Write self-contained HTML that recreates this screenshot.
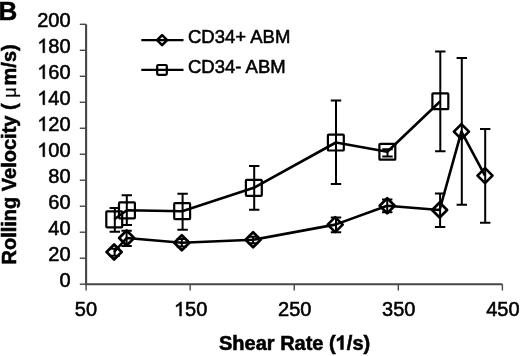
<!DOCTYPE html>
<html><head><meta charset="utf-8"><style>
html,body{margin:0;padding:0;background:#fff;}
body{width:520px;height:356px;overflow:hidden;}
svg{display:block;will-change:transform;filter:blur(0.35px);}
text{font-family:"Liberation Sans",sans-serif;fill:#000;stroke:#000;stroke-width:0.55px;}
.tk{font-size:20px;}
.lg{font-size:18.5px;}
.ttl{font-size:20px;font-weight:bold;}
.mu{font-weight:normal;font-size:18px;stroke-width:0.25px;}
.h{fill-opacity:0;stroke-opacity:0;}
.pl{font-size:26px;font-weight:bold;}
</style></head><body>
<svg width="520" height="356" viewBox="0 0 520 356">
<path transform="translate(37.225 156.750) scale(0.009766 -0.009766)" d="M763 0H583V1147Q518 1085 412 1023Q307 961 223 930V1104Q374 1175 487 1276Q600 1377 647 1440H763Z" fill="#000" stroke="#000" stroke-width="56.3"/>
<path transform="translate(37.225 130.760) scale(0.009766 -0.009766)" d="M763 0H583V1147Q518 1085 412 1023Q307 961 223 930V1104Q374 1175 487 1276Q600 1377 647 1440H763Z" fill="#000" stroke="#000" stroke-width="56.3"/>
<path transform="translate(37.225 104.770) scale(0.009766 -0.009766)" d="M763 0H583V1147Q518 1085 412 1023Q307 961 223 930V1104Q374 1175 487 1276Q600 1377 647 1440H763Z" fill="#000" stroke="#000" stroke-width="56.3"/>
<path transform="translate(37.225 78.780) scale(0.009766 -0.009766)" d="M763 0H583V1147Q518 1085 412 1023Q307 961 223 930V1104Q374 1175 487 1276Q600 1377 647 1440H763Z" fill="#000" stroke="#000" stroke-width="56.3"/>
<path transform="translate(37.225 52.790) scale(0.009766 -0.009766)" d="M763 0H583V1147Q518 1085 412 1023Q307 961 223 930V1104Q374 1175 487 1276Q600 1377 647 1440H763Z" fill="#000" stroke="#000" stroke-width="56.3"/>
<path transform="translate(173.982 316.000) scale(0.009766 -0.009766)" d="M763 0H583V1147Q518 1085 412 1023Q307 961 223 930V1104Q374 1175 487 1276Q600 1377 647 1440H763Z" fill="#000" stroke="#000" stroke-width="56.3"/>
<path transform="translate(335.719 349.600) scale(0.009766 -0.009766)" d="M785 0H504V1059Q350 915 137 846V1101Q249 1138 380 1240Q511 1342 560 1440H785Z" fill="#000" stroke="#000" stroke-width="56.3"/>
<path d="M86.1 24.3 V284.2 H502.4" fill="none" stroke="#474747" stroke-width="2.1"/>
<line x1="79.8" y1="284.20" x2="86.1" y2="284.20" stroke="#474747" stroke-width="1.4"/>
<text x="70.6" y="286.70" text-anchor="end" class="tk">0</text>
<line x1="79.8" y1="258.21" x2="86.1" y2="258.21" stroke="#474747" stroke-width="1.4"/>
<text x="70.6" y="260.71" text-anchor="end" class="tk">20</text>
<line x1="79.8" y1="232.22" x2="86.1" y2="232.22" stroke="#474747" stroke-width="1.4"/>
<text x="70.6" y="234.72" text-anchor="end" class="tk">40</text>
<line x1="79.8" y1="206.23" x2="86.1" y2="206.23" stroke="#474747" stroke-width="1.4"/>
<text x="70.6" y="208.73" text-anchor="end" class="tk">60</text>
<line x1="79.8" y1="180.24" x2="86.1" y2="180.24" stroke="#474747" stroke-width="1.4"/>
<text x="70.6" y="182.74" text-anchor="end" class="tk">80</text>
<line x1="79.8" y1="154.25" x2="86.1" y2="154.25" stroke="#474747" stroke-width="1.4"/>
<text x="70.6" y="156.75" text-anchor="end" class="tk"><tspan class="h">1</tspan>00</text>
<line x1="79.8" y1="128.26" x2="86.1" y2="128.26" stroke="#474747" stroke-width="1.4"/>
<text x="70.6" y="130.76" text-anchor="end" class="tk"><tspan class="h">1</tspan>20</text>
<line x1="79.8" y1="102.27" x2="86.1" y2="102.27" stroke="#474747" stroke-width="1.4"/>
<text x="70.6" y="104.77" text-anchor="end" class="tk"><tspan class="h">1</tspan>40</text>
<line x1="79.8" y1="76.28" x2="86.1" y2="76.28" stroke="#474747" stroke-width="1.4"/>
<text x="70.6" y="78.78" text-anchor="end" class="tk"><tspan class="h">1</tspan>60</text>
<line x1="79.8" y1="50.29" x2="86.1" y2="50.29" stroke="#474747" stroke-width="1.4"/>
<text x="70.6" y="52.79" text-anchor="end" class="tk"><tspan class="h">1</tspan>80</text>
<line x1="79.8" y1="24.30" x2="86.1" y2="24.30" stroke="#474747" stroke-width="1.4"/>
<text x="70.6" y="26.80" text-anchor="end" class="tk">200</text>
<line x1="86.10" y1="284.2" x2="86.10" y2="290.5" stroke="#474747" stroke-width="1.4"/>
<text x="85.90" y="316" text-anchor="middle" class="tk">50</text>
<line x1="190.17" y1="284.2" x2="190.17" y2="290.5" stroke="#474747" stroke-width="1.4"/>
<text x="190.67" y="316" text-anchor="middle" class="tk"><tspan class="h">1</tspan>50</text>
<line x1="294.24" y1="284.2" x2="294.24" y2="290.5" stroke="#474747" stroke-width="1.4"/>
<text x="294.74" y="316" text-anchor="middle" class="tk">250</text>
<line x1="398.31" y1="284.2" x2="398.31" y2="290.5" stroke="#474747" stroke-width="1.4"/>
<text x="398.81" y="316" text-anchor="middle" class="tk">350</text>
<line x1="502.38" y1="284.2" x2="502.38" y2="290.5" stroke="#474747" stroke-width="1.4"/>
<text x="502.88" y="316" text-anchor="middle" class="tk">450</text>
<polyline points="114.3,219.3 126.9,210.3 182.2,211.2 253.8,187.8 335.9,142.5 387.3,151.7 440.3,101.3" fill="none" stroke="#000" stroke-width="2.6" stroke-linejoin="round"/>
<polyline points="114.1,252.0 126.6,238.0 181.8,242.8 253.1,239.8 335.2,224.6 387.2,205.8 439.6,210.0 461.4,131.6 485.0,175.6" fill="none" stroke="#000" stroke-width="2.6" stroke-linejoin="round"/>
<path d="M114.8 208.0 V231.7 M109.6 208.0 H120.0 M109.6 231.7 H120.0" fill="none" stroke="#000" stroke-width="2.0"/>
<path d="M126.8 195.2 V225.1 M121.6 195.2 H132.0 M121.6 225.1 H132.0" fill="none" stroke="#000" stroke-width="2.0"/>
<path d="M182.6 193.8 V229.7 M177.4 193.8 H187.8 M177.4 229.7 H187.8" fill="none" stroke="#000" stroke-width="2.0"/>
<path d="M254.2 166.0 V209.8 M249.0 166.0 H259.4 M249.0 209.8 H259.4" fill="none" stroke="#000" stroke-width="2.0"/>
<path d="M336.0 100.4 V184.0 M330.8 100.4 H341.2 M330.8 184.0 H341.2" fill="none" stroke="#000" stroke-width="2.0"/>
<path d="M387.5 149.3 V156.4 M382.3 149.3 H392.7 M382.3 156.4 H392.7" fill="none" stroke="#000" stroke-width="2.0"/>
<path d="M440.3 51.5 V151.3 M435.1 51.5 H445.5 M435.1 151.3 H445.5" fill="none" stroke="#000" stroke-width="2.0"/>
<path d="M114.6 248.7 V255.8 M109.4 248.7 H119.8 M109.4 255.8 H119.8" fill="none" stroke="#000" stroke-width="2.0"/>
<path d="M126.6 230.8 V246.0 M121.4 230.8 H131.8 M121.4 246.0 H131.8" fill="none" stroke="#000" stroke-width="2.0"/>
<path d="M181.8 239.1 V246.5 M176.6 239.1 H187.0 M176.6 246.5 H187.0" fill="none" stroke="#000" stroke-width="2.0"/>
<path d="M253.1 236.8 V243.3 M247.9 236.8 H258.3 M247.9 243.3 H258.3" fill="none" stroke="#000" stroke-width="2.0"/>
<path d="M336.0 217.6 V232.2 M330.8 217.6 H341.2 M330.8 232.2 H341.2" fill="none" stroke="#000" stroke-width="2.0"/>
<path d="M387.2 199.5 V212.2 M382.0 199.5 H392.4 M382.0 212.2 H392.4" fill="none" stroke="#000" stroke-width="2.0"/>
<path d="M440.1 193.4 V227.1 M434.9 193.4 H445.3 M434.9 227.1 H445.3" fill="none" stroke="#000" stroke-width="2.0"/>
<path d="M461.8 58.1 V204.8 M456.6 58.1 H467.0 M456.6 204.8 H467.0" fill="none" stroke="#000" stroke-width="2.0"/>
<path d="M485.2 128.9 V222.7 M480.0 128.9 H490.4 M480.0 222.7 H490.4" fill="none" stroke="#000" stroke-width="2.0"/>
<rect x="106.3" y="211.4" width="15.9" height="15.9" rx="0.8" fill="none" stroke="#000" stroke-width="2.2"/>
<rect x="119.0" y="202.4" width="15.9" height="15.9" rx="0.8" fill="none" stroke="#000" stroke-width="2.2"/>
<rect x="174.2" y="203.2" width="15.9" height="15.9" rx="0.8" fill="none" stroke="#000" stroke-width="2.2"/>
<rect x="245.9" y="179.9" width="15.9" height="15.9" rx="0.8" fill="none" stroke="#000" stroke-width="2.2"/>
<rect x="327.9" y="134.6" width="15.9" height="15.9" rx="0.8" fill="none" stroke="#000" stroke-width="2.2"/>
<rect x="379.4" y="143.8" width="15.9" height="15.9" rx="0.8" fill="none" stroke="#000" stroke-width="2.2"/>
<rect x="432.4" y="93.3" width="15.9" height="15.9" rx="0.8" fill="none" stroke="#000" stroke-width="2.2"/>
<path d="M114.1 244.5 L121.6 252.0 L114.1 259.5 L106.6 252.0Z" fill="none" stroke="#000" stroke-width="2.7" stroke-linejoin="round"/>
<path d="M126.6 230.5 L134.1 238.0 L126.6 245.5 L119.1 238.0Z" fill="none" stroke="#000" stroke-width="2.7" stroke-linejoin="round"/>
<path d="M181.8 235.3 L189.3 242.8 L181.8 250.3 L174.3 242.8Z" fill="none" stroke="#000" stroke-width="2.7" stroke-linejoin="round"/>
<path d="M253.1 232.3 L260.6 239.8 L253.1 247.3 L245.6 239.8Z" fill="none" stroke="#000" stroke-width="2.7" stroke-linejoin="round"/>
<path d="M335.2 217.1 L342.7 224.6 L335.2 232.1 L327.7 224.6Z" fill="none" stroke="#000" stroke-width="2.7" stroke-linejoin="round"/>
<path d="M387.2 198.3 L394.7 205.8 L387.2 213.3 L379.7 205.8Z" fill="none" stroke="#000" stroke-width="2.7" stroke-linejoin="round"/>
<path d="M439.6 202.5 L447.1 210.0 L439.6 217.5 L432.1 210.0Z" fill="none" stroke="#000" stroke-width="2.7" stroke-linejoin="round"/>
<path d="M461.4 124.1 L468.9 131.6 L461.4 139.1 L453.9 131.6Z" fill="none" stroke="#000" stroke-width="2.7" stroke-linejoin="round"/>
<path d="M485.0 168.1 L492.5 175.6 L485.0 183.1 L477.5 175.6Z" fill="none" stroke="#000" stroke-width="2.7" stroke-linejoin="round"/>
<line x1="141.3" y1="40.1" x2="183.5" y2="40.1" stroke="#000" stroke-width="2.2"/>
<path d="M162.1 35.1 L167.1 40.1 L162.1 45.1 L157.1 40.1Z" fill="none" stroke="#000" stroke-width="2.6" stroke-linejoin="round"/>
<line x1="141.3" y1="69.9" x2="183.5" y2="69.9" stroke="#000" stroke-width="2.2"/>
<rect x="157.2" y="65" width="9.6" height="9.8" rx="1" fill="none" stroke="#000" stroke-width="2.2"/>
<text x="188" y="42.8" class="lg">CD34+ ABM</text>
<text x="188" y="72.8" class="lg">CD34- ABM</text>
<text x="219" y="349.6" class="ttl">Shear Rate (<tspan class="h">1</tspan>/s)</text>
<text transform="translate(15.7 264.5) rotate(-90)" x="0" y="0" class="ttl">Rolling Velocity ( <tspan class="mu">&#956;</tspan><tspan dx="2">m/s)</tspan></text>
<text x="-1.4" y="19.5" class="pl">B</text>
</svg>
</body></html>
